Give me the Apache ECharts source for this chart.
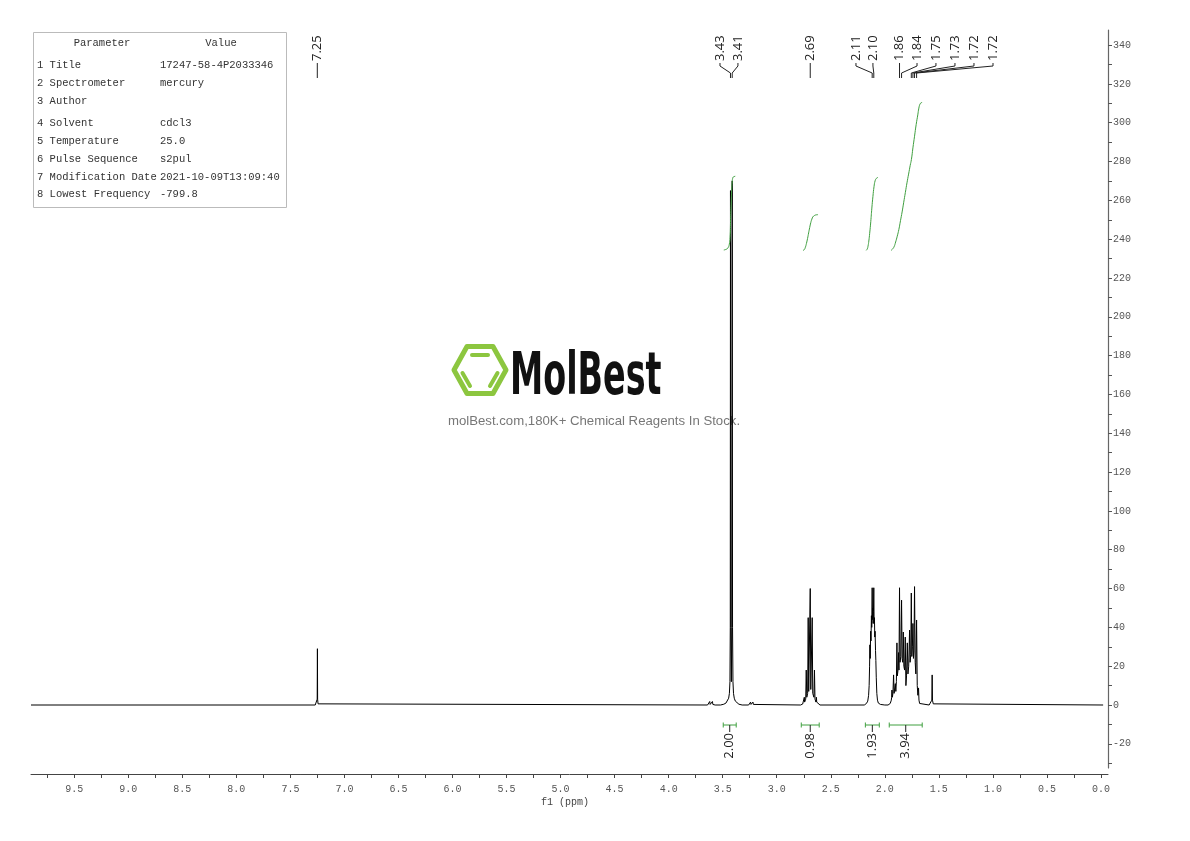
<!DOCTYPE html>
<html><head><meta charset="utf-8">
<script src="https://cdn.jsdelivr.net/npm/echarts@6/dist/echarts.min.js"></script>
<style>html,body{margin:0;padding:0;background:#fff}#c{width:1190px;height:841px}</style>
</head><body><div id="c"></div><script>
// ---------- DATA ----------
// spectrum pieces: [ppm, intensity]
const baselineStart = [[9.9, 0]];
const peakCHCl3 = [[7.27,0],[7.256,0.6],[7.252,3],[7.25,29],[7.248,3],[7.244,0.6],[7.23,0]];
const peakSmallA = [[3.64,0],[3.624,0.3],[3.62,1.8],[3.616,0.3],[3.599,0.3],[3.595,1.8],[3.591,0.3],[3.57,0]];
const peakMain = [[3.52,0],[3.49,0.4],[3.47,1],[3.455,2],[3.445,3.5],[3.438,6],[3.433,12],[3.430,40],[3.428,265],[3.425,40],[3.420,12],[3.416,40],[3.412,270],[3.409,40],[3.405,12],[3.40,6],[3.393,3.5],[3.383,2],[3.37,1],[3.35,0.4],[3.32,0]];
const peakSmallB = [[3.26,0],[3.245,0.3],[3.242,1.5],[3.238,0.3],[3.224,0.3],[3.220,1.5],[3.216,0.3],[3.20,0]];
const peakQuint = [[2.78,0],[2.76,0.5],[2.748,1.5],[2.745,4],[2.742,1.5],[2.732,3],[2.727,18],[2.722,4],[2.714,6],[2.709,45],[2.704,7],[2.695,8],[2.690,60],[2.685,8],[2.677,7],[2.672,45],[2.667,6],[2.656,4],[2.651,18],[2.646,3],[2.637,1.5],[2.633,4],[2.630,1.5],[2.615,0.5],[2.60,0]];
const peakM211 = [[2.19,0],[2.17,0.8],[2.158,2],[2.150,5],[2.145,10],[2.141,20],[2.138,31],[2.135,24],[2.131,38],[2.128,33],[2.124,46],[2.121,40],[2.117,60.4],[2.114,44],[2.111,50],[2.108,42],[2.105,48],[2.102,60.4],[2.099,42],[2.096,45],[2.093,35],[2.090,38],[2.086,28],[2.083,23],[2.079,14],[2.074,6],[2.068,2.5],[2.06,1],[2.04,0.3],[2.0,0]];
const peakM180 = [[1.97,0],[1.95,0.8],[1.940,2.5],[1.937,4],[1.934,7.7],[1.930,4],[1.925,6],[1.919,15.5],[1.914,6],[1.908,7],[1.903,11],[1.898,7],[1.893,12],[1.888,32],[1.884,15],[1.878,18],[1.873,27],[1.869,18],[1.864,60.4],[1.859,22],[1.852,25],[1.845,54],[1.840,24],[1.834,22],[1.829,37.6],[1.824,20],[1.817,18],[1.811,35],[1.805,10],[1.799,15],[1.792,32],[1.786,16],[1.779,20],[1.771,38.6],[1.766,22],[1.760,26],[1.755,57.7],[1.750,25],[1.745,30],[1.740,42],[1.735,24],[1.730,28],[1.725,61],[1.719,22],[1.713,16],[1.706,43.8],[1.700,10],[1.694,5],[1.688,8.8],[1.684,2.5],[1.678,0.8],[1.66,0]];
const peakWater = [[1.59,0],[1.572,0.6],[1.565,2.5],[1.562,15.5],[1.559,2.5],[1.552,0.6],[1.54,0]];
const baselineEnd = [[-0.02, 0]];

// integral curves [ppm, value]
const integral1 = [[3.49,234.4],[3.475,234.6],[3.46,235],[3.45,235.6],[3.44,237],[3.432,241],[3.427,250],[3.422,258],[3.417,265],[3.412,269.5],[3.405,271.8],[3.395,272.2],[3.384,272.4]];
const integral2 = [[2.757,234.2],[2.745,234.6],[2.735,235.8],[2.725,237.8],[2.715,240.3],[2.705,243.2],[2.695,246],[2.685,248.5],[2.675,250.3],[2.665,251.5],[2.65,252.2],[2.635,252.5],[2.618,252.6]];
const integral3 = [[2.172,234.2],[2.162,235],[2.155,236.5],[2.148,239],[2.14,243],[2.13,249],[2.12,256],[2.11,262],[2.10,267],[2.09,270],[2.078,271.3],[2.063,271.8]];
const integral4 = [[1.942,234.2],[1.93,234.8],[1.915,236],[1.90,238.5],[1.885,241.5],[1.87,245],[1.855,249.5],[1.84,254],[1.825,259],[1.81,264],[1.795,269],[1.78,273.5],[1.765,278],[1.754,281],[1.74,287],[1.725,293],[1.71,299],[1.695,304],[1.685,307.5],[1.675,309.5],[1.665,310.2],[1.655,310.4]];

// integration ranges (ppm from, ppm to) and their values
const integralFrom = [3.495, 2.773, 2.180, 1.959];
const integralTo   = [3.375, 2.607, 2.051, 1.654];
const integralText = ['2.00', '0.98', '1.93', '3.94'];

// peak labels
const peakLabelText = ['7.25','3.43','3.41','2.69','2.11','2.10','1.86','1.84','1.75','1.73','1.72','1.72'];
const peakLabelPpm  = [7.251, 3.428, 3.412, 2.690, 2.117, 2.102, 1.864, 1.845, 1.755, 1.740, 1.725, 1.706];

// parameter table
const tableParams = ['1 Title','2 Spectrometer','3 Author','4 Solvent','5 Temperature','6 Pulse Sequence','7 Modification Date','8 Lowest Frequency'];
const tableValues = ['17247-58-4P2033346','mercury','','cdcl3','25.0','s2pul','2021-10-09T13:09:40','-799.8'];

// ---------- LAYOUT ----------
const labelAnchorPpm = [7.251, 3.525, 3.359, 2.690, 2.267, 2.110, 1.864, 1.702, 1.527, 1.351, 1.175, 0.999];
const tableRowY = [65, 83, 101, 123, 141, 159, 177, 194];
const integralLevel = -10.3;

const spectrum = [].concat(baselineStart, peakCHCl3, peakSmallA, peakMain, peakSmallB, peakQuint, peakM211, peakM180, peakWater, baselineEnd);

const GREEN = '#3f9f3f';
const TICKFONT = '"Liberation Mono", monospace';

function renderPeakLabel(params, api) {
  const i = params.dataIndex;
  const px = api.coord([api.value(0), 0])[0];
  const lx = api.coord([api.value(2), 0])[0];
  const top = params.coordSys.y;
  return {type: 'group', children: [
    {type: 'polyline', shape: {points: [[lx, top + 33], [lx, top + 36], [px, top + 43], [px, top + 48]]},
     style: {stroke: '#222', lineWidth: 1, fill: null}},
    {type: 'text', x: lx, y: top + 31, rotation: Math.PI / 2,
     style: {text: peakLabelText[i], fill: '#222', font: '13px "Open Sans"', align: 'left', verticalAlign: 'middle'}}
  ]};
}

function renderBracket(params, api) {
  const i = params.dataIndex;
  const p1 = api.coord([api.value(0), api.value(1)]);
  const p2 = api.coord([api.value(2), api.value(1)]);
  const y = p1[1], cx = (p1[0] + p2[0]) / 2;
  const st = {stroke: GREEN, lineWidth: 1};
  return {type: 'group', children: [
    {type: 'line', shape: {x1: p1[0], y1: y, x2: p2[0], y2: y}, style: st},
    {type: 'line', shape: {x1: p1[0], y1: y - 2.5, x2: p1[0], y2: y + 2.5}, style: st},
    {type: 'line', shape: {x1: p2[0], y1: y - 2.5, x2: p2[0], y2: y + 2.5}, style: st},
    {type: 'line', shape: {x1: cx, y1: y, x2: cx, y2: y + 7}, style: {stroke: '#222', lineWidth: 1}},
    {type: 'text', x: cx, y: y + 8, rotation: Math.PI / 2,
     style: {text: integralText[i], fill: '#222', font: '13px "Open Sans"', align: 'right', verticalAlign: 'middle'}}
  ]};
}

const graphics = [];
// watermark
graphics.push({type: 'polygon', z: 0, shape: {points: [[454,370],[467,346.5],[493,346.5],[506,370],[493,393.5],[467,393.5]]},
  style: {fill: null, stroke: '#8cc63f', lineWidth: 5, lineJoin: 'round'}});
graphics.push({type: 'line', z: 0, shape: {x1: 472, y1: 355, x2: 488, y2: 355}, style: {stroke: '#8cc63f', lineWidth: 4, lineCap: 'round'}});
graphics.push({type: 'line', z: 0, shape: {x1: 462.5, y1: 373, x2: 470, y2: 386}, style: {stroke: '#8cc63f', lineWidth: 4, lineCap: 'round'}});
graphics.push({type: 'line', z: 0, shape: {x1: 497.5, y1: 373, x2: 490, y2: 386}, style: {stroke: '#8cc63f', lineWidth: 4, lineCap: 'round'}});
graphics.push({type: 'text', z: 0, x: 510, y: 378.5, scaleX: 0.64,
  style: {text: 'MolBest', font: 'bold 58px "DejaVu Sans Condensed"', fill: '#111', align: 'left', verticalAlign: 'middle'}});
graphics.push({type: 'text', z: 0, x: 594, y: 421.5,
  style: {text: 'molBest.com,180K+ Chemical Reagents In Stock.', font: '13.2px "Liberation Sans"', fill: '#777', align: 'center', verticalAlign: 'middle'}});
// table
graphics.push({type: 'rect', z: 10, shape: {x: 33.5, y: 32.5, width: 253, height: 175}, style: {fill: '#fff', stroke: '#bbb', lineWidth: 1}});
graphics.push({type: 'text', z: 11, x: 102, y: 43, style: {text: 'Parameter', font: '10.5px ' + TICKFONT, fill: '#333', align: 'center', verticalAlign: 'middle'}});
graphics.push({type: 'text', z: 11, x: 221, y: 43, style: {text: 'Value', font: '10.5px ' + TICKFONT, fill: '#333', align: 'center', verticalAlign: 'middle'}});
tableParams.forEach((p, i) => {
  graphics.push({type: 'text', z: 11, x: 37, y: tableRowY[i], style: {text: p, font: '10.5px ' + TICKFONT, fill: '#333', align: 'left', verticalAlign: 'middle'}});
  graphics.push({type: 'text', z: 11, x: 160, y: tableRowY[i], style: {text: tableValues[i], font: '10.5px ' + TICKFONT, fill: '#333', align: 'left', verticalAlign: 'middle'}});
});
// axis name
graphics.push({type: 'text', z: 11, x: 565, y: 802, style: {text: 'f1 (ppm)', font: '10px ' + TICKFONT, fill: '#444', align: 'center', verticalAlign: 'middle'}});

const chart = echarts.init(document.getElementById('c'), null, {renderer: 'canvas'});
chart.setOption({
  animation: false,
  backgroundColor: '#fff',
  graphic: graphics,
  grid: [
    {left: 31, right: 82, top: 30, bottom: 73},
    {left: 47.2, right: 89.03, top: 700, bottom: 67},
    {left: 31, right: 82, top: 45.06, bottom: 77.76}
  ],
  xAxis: [
    {gridIndex: 0, type: 'value', inverse: true, min: -0.065, max: 9.9, offset: 6,
     axisLine: {show: true, onZero: false, lineStyle: {color: '#444', width: 1}},
     axisTick: {show: false}, axisLabel: {show: false}, splitLine: {show: false}},
    {gridIndex: 1, type: 'value', inverse: true, min: 0, max: 9.75, interval: 0.25,
     axisLine: {show: false, onZero: false}, axisTick: {show: true, length: 4, lineStyle: {color: '#444'}},
     axisLabel: {show: true, margin: 10, color: '#555', fontFamily: TICKFONT, fontSize: 10,
       formatter: v => (Math.abs(v * 2 - Math.round(v * 2)) < 1e-6 ? v.toFixed(1) : '')},
     splitLine: {show: false}},
    {gridIndex: 2, type: 'value', show: false, min: 0, max: 1, axisLine: {onZero: false}}
  ],
  yAxis: [
    {gridIndex: 0, type: 'value', position: 'right', min: -32.45, max: 347.73,
     axisLine: {show: true, onZero: false, lineStyle: {color: '#666', width: 1.2}},
     axisTick: {show: false}, axisLabel: {show: false}, splitLine: {show: false}},
    {gridIndex: 1, type: 'value', show: false, min: 0, max: 1, axisLine: {onZero: false}},
    {gridIndex: 2, type: 'value', position: 'right', min: -30, max: 340, interval: 10,
     axisLine: {show: false, onZero: false}, axisTick: {show: true, length: 4, lineStyle: {color: '#555'}},
     axisLabel: {show: true, margin: 5, color: '#555', fontFamily: TICKFONT, fontSize: 10,
       formatter: v => (Math.round(v) % 20 === 0 ? String(Math.round(v)) : '')},
     splitLine: {show: false}}
  ],
  series: [
    {type: 'line', xAxisIndex: 0, yAxisIndex: 0, data: spectrum, symbol: 'none', z: 5,
     lineStyle: {color: '#000', width: 1}, silent: true},
    {type: 'line', xAxisIndex: 0, yAxisIndex: 0, data: integral1, symbol: 'none', smooth: true, z: 6, lineStyle: {color: GREEN, width: 1}},
    {type: 'line', xAxisIndex: 0, yAxisIndex: 0, data: integral2, symbol: 'none', smooth: true, z: 6, lineStyle: {color: GREEN, width: 1}},
    {type: 'line', xAxisIndex: 0, yAxisIndex: 0, data: integral3, symbol: 'none', smooth: true, z: 6, lineStyle: {color: GREEN, width: 1}},
    {type: 'line', xAxisIndex: 0, yAxisIndex: 0, data: integral4, symbol: 'none', smooth: true, z: 6, lineStyle: {color: GREEN, width: 1}},
    {type: 'custom', xAxisIndex: 0, yAxisIndex: 0, clip: false, z: 7,
     data: peakLabelPpm.map((p, i) => [p, 0, labelAnchorPpm[i]]),
     encode: {x: [0, 2], y: 1}, renderItem: renderPeakLabel},
    {type: 'custom', xAxisIndex: 0, yAxisIndex: 0, clip: false, z: 7,
     data: integralFrom.map((f, i) => [f, integralLevel, integralTo[i]]),
     encode: {x: [0, 2], y: 1}, renderItem: renderBracket}
  ]
});
</script></body></html>
